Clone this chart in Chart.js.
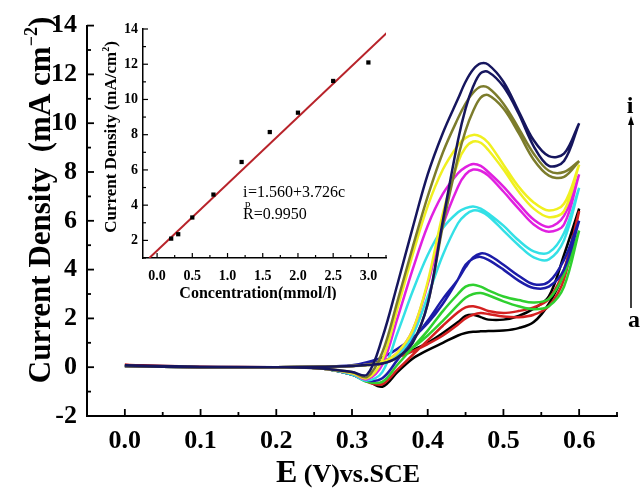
<!DOCTYPE html>
<html>
<head>
<meta charset="utf-8">
<script src="https://cdn.jsdelivr.net/npm/chart.js@4.4.0/dist/chart.umd.min.js"></script>
<style>
  body { margin: 0; background: #fff; }
  #wrap { position: relative; width: 641px; height: 488px; }
  #main { position: absolute; left: 0; top: 0; }
  #inset { position: absolute; left: 100px; top: 0; }
</style>
</head>
<body>
<div id="wrap">
  <canvas id="main" width="641" height="488"></canvas>
  <canvas id="inset" width="300" height="300"></canvas>
</div>
<script>
// potential grid shared by every scan, V vs SCE
const scanE = [0.00, 0.10, 0.20, 0.26, 0.30, 0.32, 0.34, 0.36, 0.38, 0.40, 0.42, 0.44, 0.45, 0.46, 0.47, 0.48, 0.50, 0.52, 0.54, 0.56, 0.58, 0.60];

// current density (mA cm-2) on scanE, forward = outer branch, back = return branch
const blackFwd   = [0.05, 0.00, 0.00, -0.05, -0.30, -0.55, -0.80, -0.20, 0.35, 0.70, 1.00, 1.30, 1.40, 1.45, 1.47, 1.48, 1.50, 1.60, 1.85, 2.60, 3.90, 6.50];
const blackBack  = [0.05, 0.00, 0.00, 0.02, 0.05, 0.12, 0.25, 0.45, 0.70, 1.00, 1.40, 1.85, 2.10, 2.15, 2.05, 1.95, 1.95, 2.10, 2.40, 2.90, 4.60, 6.50];
const redFwd     = [0.10, 0.02, 0.00, -0.05, -0.30, -0.60, -0.70, -0.10, 0.50, 1.10, 1.70, 2.25, 2.45, 2.50, 2.42, 2.30, 2.22, 2.30, 2.45, 2.80, 4.00, 6.40];
const redBack    = [0.10, 0.00, 0.00, 0.02, 0.05, 0.10, 0.20, 0.40, 0.65, 0.95, 1.30, 1.75, 2.00, 2.15, 2.22, 2.18, 2.08, 2.05, 2.15, 2.50, 3.60, 6.40];
const greenFwd   = [0.05, 0.00, 0.00, -0.05, -0.30, -0.60, -0.60, 0.10, 0.80, 1.50, 2.30, 3.00, 3.30, 3.38, 3.30, 3.15, 2.90, 2.75, 2.65, 2.80, 3.80, 5.60];
const greenBack  = [0.05, 0.00, 0.00, 0.02, 0.05, 0.10, 0.20, 0.45, 0.80, 1.30, 1.90, 2.55, 2.85, 3.00, 3.04, 2.95, 2.70, 2.50, 2.38, 2.50, 3.30, 5.60];
const blueFwd    = [0.05, 0.00, 0.00, -0.05, -0.30, -0.55, -0.45, 0.30, 1.10, 1.90, 2.80, 3.60, 4.10, 4.50, 4.66, 4.60, 4.20, 3.75, 3.40, 3.50, 4.40, 6.00];
const blueBack   = [0.05, 0.00, 0.00, 0.02, 0.08, 0.20, 0.40, 0.75, 1.20, 1.80, 2.60, 3.60, 4.20, 4.45, 4.52, 4.40, 4.00, 3.55, 3.25, 3.30, 4.00, 6.00];
const cyanFwd    = [0.05, 0.00, 0.00, -0.05, -0.30, -0.55, -0.20, 1.40, 3.10, 4.60, 5.70, 6.35, 6.52, 6.59, 6.50, 6.30, 5.80, 5.20, 4.75, 4.70, 5.50, 7.35];
const cyanBack   = [0.05, 0.00, 0.00, 0.02, 0.05, 0.10, 0.20, 0.50, 1.30, 2.90, 4.60, 5.90, 6.25, 6.42, 6.38, 6.20, 5.60, 5.00, 4.50, 4.42, 5.20, 7.35];
const magentaFwd = [0.05, 0.00, 0.00, -0.05, -0.25, -0.50, 0.10, 2.00, 4.00, 5.80, 7.10, 7.95, 8.20, 8.33, 8.25, 8.00, 7.40, 6.70, 6.05, 5.75, 6.20, 7.90];
const magentaBack= [0.05, 0.00, 0.00, 0.02, 0.05, 0.10, 0.20, 0.60, 1.50, 3.40, 5.80, 7.40, 7.90, 8.10, 8.05, 7.85, 7.20, 6.50, 5.85, 5.55, 5.85, 7.90];
const yellowFwd  = [0.05, 0.00, 0.00, -0.05, -0.25, -0.45, 0.30, 2.40, 4.60, 6.60, 8.10, 9.10, 9.40, 9.52, 9.45, 9.20, 8.30, 7.40, 6.75, 6.42, 6.70, 8.30];
const yellowBack = [0.05, 0.00, 0.00, 0.02, 0.05, 0.10, 0.20, 0.60, 1.50, 3.50, 6.30, 8.40, 9.00, 9.25, 9.20, 8.90, 8.10, 7.20, 6.50, 6.15, 6.40, 8.30];
const oliveFwd   = [0.05, 0.00, 0.00, -0.05, -0.20, -0.40, 0.60, 2.70, 4.90, 7.00, 8.80, 10.20, 10.80, 11.25, 11.50, 11.45, 10.80, 9.80, 8.75, 8.05, 8.00, 8.45];
const oliveBack  = [0.05, 0.00, 0.00, 0.02, 0.05, 0.08, 0.15, 0.40, 1.00, 2.60, 5.80, 8.60, 9.70, 10.50, 11.05, 11.15, 10.60, 9.60, 8.50, 7.85, 7.80, 8.45];
const navyFwd    = [0.08, 0.02, 0.00, -0.05, -0.20, -0.30, 1.20, 3.40, 5.70, 7.90, 9.60, 11.00, 11.70, 12.20, 12.45, 12.40, 11.70, 10.50, 9.30, 8.65, 8.75, 10.00];
const navyBack   = [0.05, 0.00, 0.00, 0.02, 0.05, 0.10, 0.15, 0.40, 1.00, 2.60, 6.00, 9.30, 10.60, 11.50, 12.05, 12.10, 11.50, 10.40, 9.05, 8.25, 8.45, 10.00];

const xTicks = [0.0, 0.1, 0.2, 0.3, 0.4, 0.5, 0.6];
const yTicks = [-2, 0, 2, 4, 6, 8, 10, 12, 14];

// inset: peak current vs concentration
const concentration = [0.2, 0.3, 0.5, 0.8, 1.2, 1.6, 2.0, 2.5, 3.0];
const peakCurrent = [2.1, 2.35, 3.3, 4.6, 6.45, 8.15, 9.25, 11.05, 12.1];
const fitConc = [-0.11, 3.26];
const fitCurrent = [1.0, 13.77];
const insetXTicks = [0.0, 0.5, 1.0, 1.5, 2.0, 2.5, 3.0];
const insetYTicks = [2, 4, 6, 8, 10, 12, 14];

const curves = [
  ['#000000', blackFwd, blackBack],
  ['#d42020', redFwd, redBack],
  ['#2fd02f', greenFwd, greenBack],
  ['#1c1ca8', blueFwd, blueBack],
  ['#33e0e6', cyanFwd, cyanBack],
  ['#e020e0', magentaFwd, magentaBack],
  ['#f0f020', yellowFwd, yellowBack],
  ['#7c7c2c', oliveFwd, oliveBack],
  ['#16165e', navyFwd, navyBack]
];

const loopDatasets = curves.map(([color, fwd, back]) => {
  const out = scanE.map((e, i) => ({x: e, y: fwd[i]}));
  const ret = scanE.map((e, i) => ({x: e, y: back[i]})).reverse();
  return {
    data: out.concat(ret),
    showLine: true,
    borderColor: color,
    borderWidth: 2.5,
    pointRadius: 0,
    tension: 0.35,
    fill: false
  };
}).reverse();

const serif = 'Liberation Serif, Times New Roman, serif';

const mainDecor = {
  id: 'mainDecor',
  afterDraw(chart) {
    const {ctx, chartArea: a, scales: {x, y}} = chart;
    ctx.save();
    ctx.strokeStyle = '#000';
    ctx.lineWidth = 1.8;
    for (let k = 0; k <= 13; k++) {
      const px = x.getPixelForValue(k * 0.05);
      const len = k % 2 ? 4 : 7;
      ctx.beginPath(); ctx.moveTo(px, a.bottom); ctx.lineTo(px, a.bottom - len); ctx.stroke();
    }
    for (let v = -2; v <= 14; v++) {
      const py = y.getPixelForValue(v);
      const len = v % 2 ? 4 : 7;
      ctx.beginPath(); ctx.moveTo(a.left, py); ctx.lineTo(a.left + len, py); ctx.stroke();
    }

    // y title
    ctx.fillStyle = '#000';
    ctx.save();
    ctx.translate(50, 200);
    ctx.rotate(-Math.PI / 2);
    ctx.textBaseline = 'alphabetic';
    const big = 'bold 31px ' + serif, small = 'bold 18px ' + serif;
    const t1 = 'Current Density  (mA cm', t2 = '\u22122', t3 = ')';
    ctx.font = big; const w1 = ctx.measureText(t1).width, w3 = ctx.measureText(t3).width;
    ctx.font = small; const w2 = ctx.measureText(t2).width;
    let sx = -(w1 + w2 + w3) / 2;
    ctx.font = big; ctx.fillText(t1, sx, 0); sx += w1;
    ctx.font = small; ctx.fillText(t2, sx, -13); sx += w2;
    ctx.font = big; ctx.fillText(t3, sx, 0);
    ctx.restore();

    // x title
    ctx.textBaseline = 'alphabetic';
    const e1 = 'E', e2 = ' (V)vs.SCE';
    ctx.font = 'bold 32px ' + serif; const we1 = ctx.measureText(e1).width;
    ctx.font = 'bold 26px ' + serif; const we2 = ctx.measureText(e2).width;
    let ex = 348 - (we1 + we2) / 2;
    ctx.font = 'bold 32px ' + serif; ctx.fillText(e1, ex, 482);
    ctx.font = 'bold 26px ' + serif; ctx.fillText(e2, ex + we1, 482);

    // concentration arrow a -> i
    ctx.lineWidth = 1.5;
    ctx.beginPath(); ctx.moveTo(631, 308); ctx.lineTo(631, 122); ctx.stroke();
    ctx.beginPath(); ctx.moveTo(631, 116); ctx.lineTo(628, 125); ctx.lineTo(634, 125); ctx.closePath(); ctx.fill();
    ctx.textAlign = 'center';
    ctx.font = 'bold 24px ' + serif;
    ctx.fillText('i', 630, 113);
    ctx.fillText('a', 634, 327);
    ctx.restore();
  }
};

new Chart(document.getElementById('main'), {
  type: 'scatter',
  data: { datasets: loopDatasets },
  options: {
    responsive: false,
    animation: false,
    layout: { padding: { left: 0, right: 24, top: 23, bottom: 0 } },
    plugins: { legend: { display: false }, tooltip: { enabled: false } },
    scales: {
      x: {
        type: 'linear', min: -0.05, max: 0.65,
        afterBuildTicks: s => { s.ticks = xTicks.map(v => ({ value: v })); },
        afterFit: s => { s.height = 72; },
        grid: { display: false, drawTicks: false },
        border: { color: '#000', width: 2 },
        ticks: { color: '#000', padding: 10, maxRotation: 0, font: { family: serif, size: 26, weight: 'bold' },
          callback: v => Number(v).toFixed(1) }
      },
      y: {
        type: 'linear', min: -2, max: 14,
        afterBuildTicks: s => { s.ticks = yTicks.map(v => ({ value: v })); },
        afterFit: s => { s.width = 87; },
        grid: { display: false, drawTicks: false },
        border: { color: '#000', width: 2 },
        ticks: { color: '#000', padding: 10, font: { family: serif, size: 26, weight: 'bold' },
          callback: v => String(v) }
      }
    }
  },
  plugins: [mainDecor]
});

const insetDecor = {
  id: 'insetDecor',
  afterDraw(chart) {
    const {ctx, chartArea: a, scales: {x, y}} = chart;
    ctx.save();
    ctx.strokeStyle = '#000';
    ctx.lineWidth = 1.2;
    for (let k = 0; k <= 13; k++) {
      const px = x.getPixelForValue(k * 0.25);
      const len = k % 2 ? 3 : 5;
      ctx.beginPath(); ctx.moveTo(px, a.bottom); ctx.lineTo(px, a.bottom - len); ctx.stroke();
    }
    for (let v = 1; v <= 14; v++) {
      const py = y.getPixelForValue(v);
      const len = v % 2 ? 3 : 5;
      ctx.beginPath(); ctx.moveTo(a.left, py); ctx.lineTo(a.left + len, py); ctx.stroke();
    }
    ctx.fillStyle = '#000';
    // y title
    ctx.save();
    ctx.translate(16, 137);
    ctx.rotate(-Math.PI / 2);
    const f1 = 'bold 17px ' + serif, f2 = 'bold 10px ' + serif;
    const s1 = 'Current Density (mA/cm', s2 = '2', s3 = ')';
    ctx.font = f1; const a1 = ctx.measureText(s1).width, a3 = ctx.measureText(s3).width;
    ctx.font = f2; const a2 = ctx.measureText(s2).width;
    let sx = -(a1 + a2 + a3) / 2;
    ctx.font = f1; ctx.fillText(s1, sx, 0); sx += a1;
    ctx.font = f2; ctx.fillText(s2, sx, -7); sx += a2;
    ctx.font = f1; ctx.fillText(s3, sx, 0);
    ctx.restore();
    // x title
    ctx.textAlign = 'center';
    ctx.font = 'bold 16px ' + serif;
    ctx.fillText('Concentration(mmol/l)', 158, 298);
    // fit annotation
    ctx.textAlign = 'left';
    ctx.font = '16px ' + serif;
    ctx.fillText('i', 143, 197);
    ctx.font = '11px ' + serif;
    ctx.fillText('p', 145, 207);
    ctx.font = '16px ' + serif;
    ctx.fillText('=1.560+3.726c', 148, 197);
    ctx.fillText('R=0.9950', 143, 219);
    ctx.restore();
  }
};

new Chart(document.getElementById('inset'), {
  type: 'scatter',
  data: {
    datasets: [
      {
        data: concentration.map((c, i) => ({ x: c, y: peakCurrent[i] })),
        pointStyle: 'rect', pointRadius: 3, backgroundColor: '#000', borderColor: '#000', borderWidth: 0
      },
      {
        data: fitConc.map((c, i) => ({ x: c, y: fitCurrent[i] })),
        showLine: true, pointRadius: 0, borderColor: '#b8232a', borderWidth: 2
      }
    ]
  },
  options: {
    responsive: false,
    animation: false,
    layout: { padding: { left: 0, right: 14, top: 29, bottom: 0 } },
    plugins: { legend: { display: false }, tooltip: { enabled: false } },
    scales: {
      x: {
        type: 'linear', min: -0.2, max: 3.25,
        afterBuildTicks: s => { s.ticks = insetXTicks.map(v => ({ value: v })); },
        afterFit: s => { s.height = 42; },
        grid: { display: false, drawTicks: false },
        border: { color: '#000', width: 1.5 },
        ticks: { color: '#000', padding: 10, maxRotation: 0, font: { family: serif, size: 14, weight: 'bold' },
          callback: v => Number(v).toFixed(1) }
      },
      y: {
        type: 'linear', min: 1, max: 14,
        afterBuildTicks: s => { s.ticks = insetYTicks.map(v => ({ value: v })); },
        afterFit: s => { s.width = 43; },
        grid: { display: false, drawTicks: false },
        border: { color: '#000', width: 1.5 },
        ticks: { color: '#000', padding: 5, font: { family: serif, size: 14, weight: 'bold' },
          callback: v => String(v) }
      }
    }
  },
  plugins: [insetDecor]
});
</script>
</body>
</html>
